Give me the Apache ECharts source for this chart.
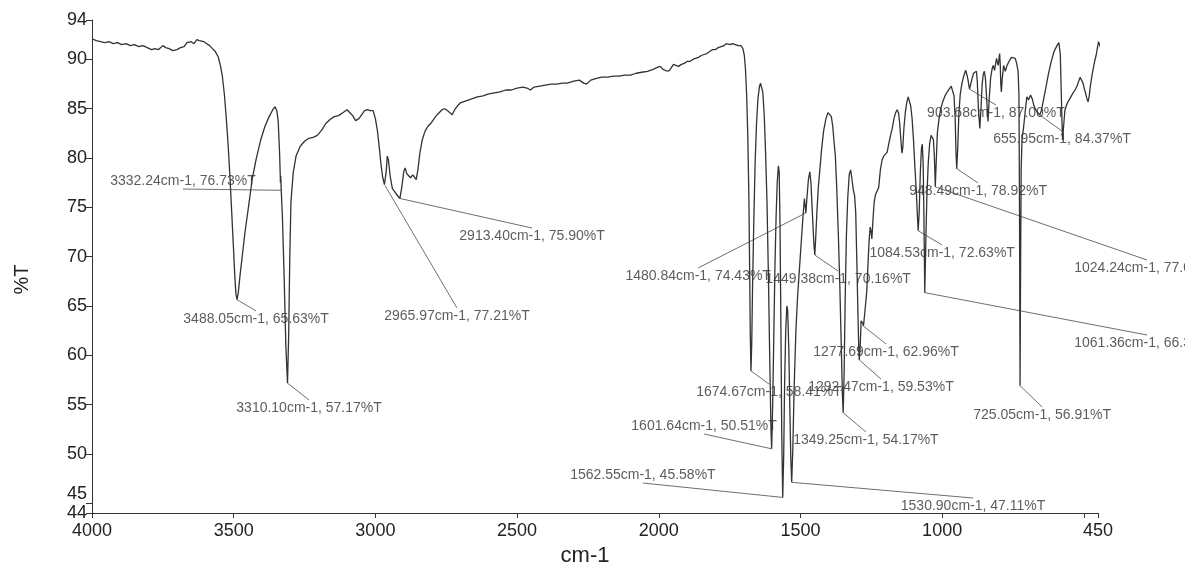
<!DOCTYPE html>
<html><head><meta charset="utf-8">
<script src="https://cdn.jsdelivr.net/npm/echarts@6/dist/echarts.min.js"></script>
<style>html,body{margin:0;padding:0;background:#fff}#c{width:1185px;height:562px}</style>
</head><body><div id="c"></div>
<script>
// ---- spectrum (wavenumber, %T) ----
const wavenumbers = [
4000,3985,3970,3955,3940,3925,3910,3895,3880,3865,3850,3835,3820,3805,3790,3778,3765,3750,3740,3728,3715,3700,3688,3675,3665,3658,3650,3640,3630,3622,3615,3605,3595,3585,3575,3565,3555,3547,3540,3533,3526,3520,3513,3507,3501,3496,3492,3488.05,3484,3478,3470,3460,3448,3435,3420,3405,3390,3375,3362,3354,3348,3343,3338,3335,3334,3332.24,3328,3322,3316,3310.10,3306,3302,3298,3290,3280,3265,3250,3235,3220,3205,3190,3175,3160,3145,3130,3115,3100,3090,3080,3070,3064,3058,3048,3038,3028,3018,3008,3000,2993,2986,2980,2974,2968,2965.97,2962,2958,2954,2948,2940,2932,2925,2918,2913.40,2907,2900,2895,2889,2882,2876,2868,2862,2856,2850,2843,2835,2825,2815,2805,2795,2785,2775,2765,2755,2745,2737,2729,2720,2710,2700,2680,2660,2640,2620,2600,2580,2560,2540,2520,2500,2480,2465,2453,2440,2420,2400,2380,2360,2340,2323,2300,2280,2265,2255,2240,2217,2200,2180,2160,2140,2120,2100,2080,2060,2040,2020,2005,1995,1985,1978,1970,1962,1955,1948,1940,1930,1920,1910,1900,1890,1880,1870,1860,1850,1840,1830,1820,1810,1800,1790,1780,1770,1762,1755,1748,1740,1730,1720,1710,1703,1698,1694,1690,1686,1682,1679,1677,1674.67,1672,1669,1665,1660,1655,1650,1645,1641,1637,1633,1628,1623,1618,1613,1608,1604,1601.64,1598,1594,1590,1586,1582,1578,1575,1572,1569,1566,1562.55,1559,1556,1552,1548,1545,1541,1537,1534,1530.90,1527,1522,1516,1510,1503,1496,1490,1486,1483.5,1480.84,1477,1472,1467,1463,1458,1453,1449.38,1446,1442,1437,1431,1425,1418,1410,1403,1397,1391,1386,1381,1377,1372,1366,1361,1356,1352,1349.25,1346,1342,1338,1333,1328,1323,1318,1313,1309,1305,1301,1297,1294,1292.47,1289,1286,1282,1279.5,1277.69,1274,1270,1266,1262,1258,1254,1251,1248,1244,1240,1235,1229,1224,1218,1212,1206,1200,1194,1188,1182,1176,1170,1164,1159,1154,1150,1146,1142,1139,1135,1130,1125,1120,1116,1111,1106,1101,1096,1091,1087,1084.53,1081,1077,1073,1070,1067,1064.5,1061.36,1058,1054,1049,1044,1039,1035,1031,1028,1026,1024.24,1021,1017,1011,1005,998,990,982,975,968,963,958,954,951,948.49,945,941,936,930,924,917,912,908,903.68,899,895,889,884,879,876,872,867,863,859,855,851,847,843,838,834,829,824,820,815,811,808,805,802,799,797,795,793,791,788,783,777,771,762,755,748,742,737,732,729,727,725.05,723,721,718,713,707,701,695,688,682,676,668,662,655.95,650,645,635,625,615,605,595,588,583,580,577,575,572,567,562,556,550,544,538,531,524,518,513,508,503,498,493,489,485,481,477,471,466,461,456,452,448,445,441
];
const transmittance = [
92.1,91.9,91.8,91.7,91.8,91.6,91.7,91.5,91.6,91.4,91.5,91.3,91.4,91.2,91.0,91.1,91.0,91.4,91.2,91.1,90.9,91.0,91.2,91.3,91.7,91.5,91.8,91.6,92.0,91.9,92.1,91.8,91.6,91.4,91.1,90.8,90.3,89.4,88.3,86.5,84.0,81.5,78.0,74.5,71.0,68.0,66.2,65.63,66.3,68.0,70.0,72.5,75.0,77.8,80.0,81.8,83.2,84.2,84.9,85.2,84.8,83.8,80.5,77.5,78.2,76.73,74.0,68.0,61.0,57.17,62.0,70.0,75.5,78.5,80.2,81.2,81.7,82.0,82.1,82.3,82.8,83.5,83.9,84.2,84.3,84.6,84.9,84.6,84.3,83.8,83.6,84.0,84.4,84.8,84.9,84.8,84.8,84.0,82.8,81.0,79.3,78.0,77.3,77.21,78.6,80.2,79.8,78.2,76.9,76.6,76.3,76.2,75.90,77.0,78.6,79.0,78.4,78.2,78.0,78.3,78.1,77.8,78.8,80.5,81.8,82.7,83.2,83.5,83.9,84.3,84.6,84.9,85.0,84.8,84.6,84.4,84.9,85.3,85.6,85.8,86.0,86.2,86.3,86.5,86.6,86.7,86.9,86.9,87.1,87.2,87.1,86.9,87.2,87.3,87.4,87.5,87.5,87.6,87.6,87.8,87.9,87.6,87.5,87.9,88.1,88.2,88.2,88.3,88.3,88.4,88.4,88.6,88.7,88.8,89.0,89.2,89.3,89.0,89.1,88.8,88.9,89.2,89.5,89.4,89.3,89.5,89.6,89.8,89.8,90.0,90.1,90.2,90.4,90.5,90.6,90.8,91.0,91.0,91.2,91.3,91.4,91.6,91.8,91.5,91.6,91.5,91.4,91.4,91.1,90.4,89.0,86.5,82.5,76.0,68.0,62.0,58.41,61.0,67.0,73.0,79.5,83.5,86.0,87.2,87.6,87.4,86.7,84.5,80.5,75.5,68.0,59.0,52.5,50.51,55.0,62.0,69.0,74.0,77.5,79.2,78.6,73.0,63.0,52.0,45.58,50.0,57.0,62.5,65.0,64.5,60.5,54.0,49.5,47.11,50.5,57.0,62.5,66.0,69.0,72.0,74.5,75.9,75.2,74.43,76.0,77.8,78.6,77.5,74.5,71.5,70.16,72.0,74.5,77.0,79.0,81.0,82.8,84.0,84.6,84.6,84.2,83.2,81.5,80.3,77.0,72.0,67.0,61.0,56.0,54.17,58.0,66.0,72.0,76.0,78.3,78.8,77.8,76.7,76.2,74.5,69.5,64.0,60.5,59.53,61.0,63.5,63.5,63.2,62.96,64.0,65.2,66.5,69.0,71.5,73.0,72.6,71.8,73.8,75.5,76.3,76.5,77.0,78.8,79.8,80.2,80.4,80.6,81.5,82.3,83.0,84.0,84.6,84.9,84.6,83.6,82.0,80.5,81.0,83.0,84.6,85.6,86.2,86.1,85.3,84.0,81.8,79.0,76.5,74.0,72.63,74.5,78.5,81.0,81.4,79.5,74.5,66.35,71.0,76.0,79.5,81.5,82.3,82.5,81.9,80.5,79.0,77.08,79.5,82.5,84.0,85.0,85.7,86.3,86.7,87.0,87.3,87.1,86.3,84.0,80.5,78.92,81.0,84.5,86.5,87.6,88.3,88.9,88.4,87.8,87.00,87.5,88.0,88.6,88.8,88.8,87.8,85.0,83.0,85.0,87.4,88.5,88.8,88.0,86.0,83.7,86.0,88.1,89.0,89.4,88.9,89.6,90.1,89.7,89.4,90.2,90.6,89.5,87.5,86.7,88.0,89.4,88.8,89.4,89.9,90.2,90.3,90.1,89.6,88.8,86.5,75.0,56.91,70.0,79.0,82.0,83.0,84.7,86.2,85.9,86.4,86.0,85.3,84.8,84.6,84.37,84.8,85.5,87.0,88.5,89.8,90.8,91.4,91.7,90.5,87.0,83.5,81.8,83.0,84.8,85.3,85.7,85.8,86.3,86.6,86.9,87.3,87.8,88.2,88.0,87.6,87.0,86.5,86.0,85.7,86.3,87.3,88.4,89.2,89.9,90.5,91.2,91.8,92.0,91.2
];

// ---- peak annotations ----
const peakWn = [3332.24,3488.05,3310.10,2965.97,2913.40,1480.84,1449.38,1674.67,1601.64,1562.55,1530.90,1349.25,1292.47,1277.69,1084.53,1061.36,1024.24,948.49,903.68,655.95,725.05];
const peakT  = [76.73,65.63,57.17,77.21,75.90,74.43,70.16,58.41,50.51,45.58,47.11,54.17,59.53,62.96,72.63,66.35,77.08,78.92,87.00,84.37,56.91];

// label anchor points (where each leader line ends), in axis units
const anchorWn = [3679,3421,3234,2712,2447,1861,1367,1611,1840,2056,891,1269,1216,1198,1000,277,277,873,810,577,647];
const anchorT  = [76.86,64.49,55.46,64.79,72.90,68.85,68.54,57.08,52.01,47.04,45.52,52.22,57.59,61.14,71.18,62.05,69.66,77.47,85.38,82.74,54.75];
const anchorSide = ['above','below','below','below','below','below','below','below','above','above','below','below','below','below','below','below','below','below','below','below','below'];

// ---- axis ticks ----
const xTickValues  = [4000,3500,3000,2500,2000,1500,1000,500,450];
const xLabelValues = [4000,3500,3000,2500,2000,1500,1000,450];
const yTickValues  = [94,90,85,80,75,70,65,60,55,50,45,44];

const FONT = "'Liberation Sans', Arial, sans-serif";
const spectrum = wavenumbers.map((w, i) => [w, transmittance[i]]);
const labelText = peakWn.map((w, i) => w.toFixed(2) + 'cm-1, ' + peakT[i].toFixed(2) + '%T');
const leaders = peakWn.map((w, i) => ({ coords: [[w, peakT[i]], [anchorWn[i], anchorT[i]]] }));
const anchors = anchorWn.map((w, i) => ({
  value: [w, anchorT[i]],
  label: { position: anchorSide[i] === 'above' ? 'top' : 'bottom' }
}));

const chart = echarts.init(document.getElementById('c'), null, { renderer: 'canvas' });
chart.setOption({
  animation: false,
  backgroundColor: '#ffffff',
  grid: { left: 92, right: 87, top: 20, bottom: 49, containLabel: false, outerBoundsMode: 'none' },
  xAxis: {
    type: 'value', inverse: true, min: 450, max: 4000,
    splitLine: { show: false },
    axisLine: { show: true, lineStyle: { color: '#333', width: 1 } },
    axisTick: { show: true, customValues: xTickValues, length: 5, lineStyle: { color: '#333' } },
    axisLabel: { customValues: xLabelValues, fontSize: 18, color: '#222', margin: 9, fontFamily: FONT,
      formatter: v => String(v) },
    name: 'cm-1', nameLocation: 'middle', nameGap: 22,
    nameTextStyle: { fontSize: 22, color: '#222', fontFamily: FONT, padding: [0, 20, 0, 0] }
  },
  yAxis: {
    type: 'value', min: 44, max: 94,
    splitLine: { show: false },
    axisLine: { show: true, lineStyle: { color: '#333', width: 1 } },
    axisTick: { show: true, customValues: yTickValues, length: 6, lineStyle: { color: '#333' } },
    axisLabel: {
      customValues: yTickValues, fontSize: 18, color: '#222', margin: 5, fontFamily: FONT,
      formatter: v => (v === 45 ? '{up|45}' : String(v)),
      rich: { up: { fontSize: 18, color: '#222', fontFamily: FONT, padding: [0, 0, 18, 0] } }
    },
    name: '%T', nameLocation: 'middle', nameGap: 60,
    nameTextStyle: { fontSize: 20, color: '#222', fontFamily: FONT, padding: [0, 26, 0, 0] }
  },
  series: [
    {
      type: 'line', data: spectrum, showSymbol: false, clip: false, silent: true,
      lineStyle: { color: '#333333', width: 1.3 }
    },
    {
      type: 'lines', coordinateSystem: 'cartesian2d', data: leaders, clip: false, silent: true,
      lineStyle: { color: '#6f6f6f', width: 1, opacity: 1, curveness: 0 }
    },
    {
      type: 'scatter', data: anchors, symbolSize: 0.1, clip: false, silent: true,
      itemStyle: { color: 'rgba(0,0,0,0)' },
      label: {
        show: true, distance: 1, fontSize: 14, color: '#333', fontFamily: FONT,
        formatter: p => labelText[p.dataIndex]
      }
    }
  ]
});
</script>
</body></html>
